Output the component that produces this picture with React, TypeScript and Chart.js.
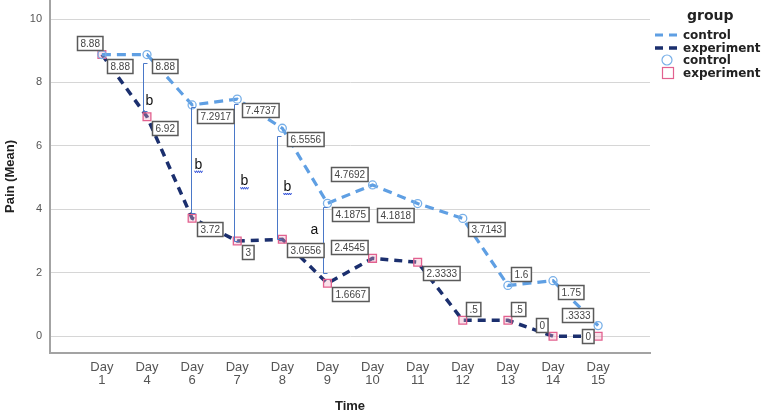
import React, { useEffect, useRef } from 'react';
import { Chart, registerables } from 'chart.js';
Chart.register(...registerables);

const days = ['1', '4', '6', '7', '8', '9', '10', '11', '12', '13', '14', '15'];
const controlMeans = [8.88, 8.88, 7.2917, 7.4737, 6.5556, 4.1875, 4.7692, 4.1818, 3.7143, 1.6, 1.75, 0.3333];
const experimentMeans = [8.88, 6.92, 3.72, 3, 3.0556, 1.6667, 2.4545, 2.3333, 0.5, 0.5, 0, 0];
const sigLetters = ['', 'b', 'b', 'b', 'b', 'a', '', '', '', '', '', ''];
const yTicks = [0, 2, 4, 6, 8, 10];
const legendTitle = 'group';
const seriesNames = ['control', 'experiment'];

// label / bracket placement (layout only)
const controlLabelPos = ['u', 'lr', 'lr', 'lr', 'lr', 'lr', 'ul', 'll', 'lr', 'ur', 'lr', 'ul'];
const experimentLabelPos = ['lr', 'lr', 'lr', 'lr', 'lr', 'lr', 'ul', 'lr', 'ur', 'ur', 'ul', 'l'];
const bracketDx = [0, -4, -1, -3, -5, -4, 0, 0, 0, 0, 0, 0];
const bracketTopInset = [0, 8, 2, 5, 8, 4, 0, 0, 0, 0, 0, 0];
const bracketBotInset = [0, 6, 5, 0, 0, 10, 0, 0, 0, 0, 0, 0];
const letterDx = [0, 6, 7, 10, 10, -9, 0, 0, 0, 0, 0, 0];
const letterFrac = [0, 0.78, 0.54, 0.56, 0.49, 0.35, 0, 0, 0, 0, 0, 0];
const squiggle = [false, false, true, true, true, false, false, false, false, false, false, false];

const CONTROL = '#5f9fe3';
const EXPER = '#1b2f6e';
const PINK = '#e2618f';
const FONT = '"Liberation Sans", Arial, sans-serif';
const LFONT = '"DejaVu Sans", Verdana, sans-serif';

const fmt = (v: number) => String(v).replace(/^0\./, '.');
const noPad = () => ({ left: 0, top: 0, right: 0, bottom: 0 });

const overlay = {
  id: 'overlay',
  afterDatasetsDraw(chart: any) {
    const { ctx } = chart;
    const xs = chart.scales.x;
    const ys = chart.scales.y;
    ctx.save();
    // significance brackets
    sigLetters.forEach((letter: string, i: number) => {
      if (!letter) return;
      const lx = Math.round(xs.getPixelForValue(i) + bracketDx[i]) + 0.5;
      const top = Math.round(ys.getPixelForValue(controlMeans[i]) + bracketTopInset[i]) + 0.5;
      const bot = Math.round(ys.getPixelForValue(experimentMeans[i]) - bracketBotInset[i]) + 0.5;
      ctx.strokeStyle = '#4a78c8';
      ctx.lineWidth = 1;
      ctx.setLineDash([]);
      ctx.beginPath();
      ctx.moveTo(lx + 4, top);
      ctx.lineTo(lx, top);
      ctx.lineTo(lx, bot);
      ctx.lineTo(lx + 4, bot);
      ctx.stroke();
      const ly = top + (bot - top) * letterFrac[i];
      const tx = lx + letterDx[i];
      ctx.fillStyle = '#111';
      ctx.font = '14px ' + FONT;
      ctx.textAlign = 'center';
      ctx.textBaseline = 'middle';
      ctx.fillText(letter, tx, ly);
      if (squiggle[i]) {
        ctx.strokeStyle = '#2f4fd8';
        ctx.lineWidth = 1;
        ctx.beginPath();
        for (let k = 0; k <= 8; k++) {
          const px = tx - 4 + k;
          const py = ly + 7 + (k % 2 === 0 ? -1 : 1);
          if (k === 0) ctx.moveTo(px, py);
          else ctx.lineTo(px, py);
        }
        ctx.stroke();
      }
    });
    // value labels
    const drawLabel = (val: number, i: number, code: string) => {
      const px = xs.getPixelForValue(i);
      const py = ys.getPixelForValue(val);
      const text = fmt(val);
      ctx.font = '10px ' + FONT;
      const w = ctx.measureText(text).width + 6;
      const h = 14;
      let left = px + 5;
      let top = py + 4;
      if (code === 'ul') { left = px - 5 - w; top = py - 4 - h; }
      else if (code === 'll') { left = px - 4 - w; top = py + 4; }
      else if (code === 'ur') { left = px + 3; top = py - 4 - h; }
      else if (code === 'l') { left = px - 5 - w; top = py - h / 2; }
      else if (code === 'u') { left = px + 1 - w; top = py - 5 - h; }
      left = Math.round(left) + 0.5;
      top = Math.round(top) + 0.5;
      ctx.fillStyle = '#ffffff';
      ctx.fillRect(left, top, w, h);
      ctx.strokeStyle = '#5a5a5a';
      ctx.lineWidth = 1.5;
      ctx.setLineDash([]);
      ctx.strokeRect(left, top, w, h);
      ctx.fillStyle = '#444';
      ctx.textAlign = 'center';
      ctx.textBaseline = 'middle';
      ctx.fillText(text, left + w / 2, top + h / 2 + 0.5);
    };
    controlMeans.forEach((v, i) => drawLabel(v, i, controlLabelPos[i]));
    experimentMeans.forEach((v, i) => drawLabel(v, i, experimentLabelPos[i]));
    ctx.restore();
  },
  afterDraw(chart: any) {
    const { ctx } = chart;
    ctx.save();
    ctx.fillStyle = '#222';
    ctx.textAlign = 'left';
    ctx.textBaseline = 'middle';
    ctx.font = 'bold 14px ' + LFONT;
    ctx.fillText(legendTitle, 687, 16);
    ctx.font = 'bold 12px ' + LFONT;
    // dashed lines
    [[CONTROL, 35, 3], [EXPER, 48, 3.5]].forEach(([c, y, lw]: any) => {
      ctx.strokeStyle = c;
      ctx.lineWidth = lw;
      ctx.setLineDash([8, 6]);
      ctx.beginPath();
      ctx.moveTo(655, y);
      ctx.lineTo(679, y);
      ctx.stroke();
    });
    ctx.setLineDash([]);
    ctx.strokeStyle = '#79b0e8';
    ctx.lineWidth = 1.2;
    ctx.beginPath();
    ctx.arc(667, 60, 5, 0, Math.PI * 2);
    ctx.stroke();
    ctx.strokeStyle = PINK;
    ctx.strokeRect(662.5, 67.5, 11, 11);
    ctx.fillStyle = '#222';
    ctx.fillText(seriesNames[0], 683, 36);
    ctx.fillText(seriesNames[1], 683, 49);
    ctx.fillText(seriesNames[0], 683, 61);
    ctx.fillText(seriesNames[1], 683, 74);
    ctx.restore();
  },
};

export default function App() {
  const ref = useRef<HTMLCanvasElement>(null);
  useEffect(() => {
    document.body.style.margin = '0';
    const chart = new Chart(ref.current as HTMLCanvasElement, {
      type: 'line',
      data: {
        datasets: [
          {
            label: seriesNames[0],
            data: controlMeans.map((v, i) => ({ x: i, y: v })),
            borderColor: CONTROL,
            borderWidth: 3.2,
            borderDash: [9, 6],
            pointStyle: 'circle',
            pointRadius: 4,
            pointBorderWidth: 1.3,
            pointBorderColor: '#79b0e8',
            pointBackgroundColor: 'rgba(255,255,255,0)',
            tension: 0,
            fill: false,
          },
          {
            label: seriesNames[1],
            data: experimentMeans.map((v, i) => ({ x: i, y: v })),
            borderColor: EXPER,
            borderWidth: 3.5,
            borderDash: [8, 6],
            pointStyle: 'rect',
            pointRadius: 5.5,
            pointBorderWidth: 1.3,
            pointBorderColor: PINK,
            pointBackgroundColor: 'rgba(240,170,195,0.35)',
            tension: 0,
            fill: false,
          },
        ],
      },
      options: {
        responsive: false,
        animation: false,
        layout: { autoPadding: false, padding: { left: 0, right: 118, top: 0, bottom: 0 } },
        plugins: { legend: { display: false }, tooltip: { enabled: false } },
        scales: {
          x: {
            type: 'linear',
            min: -1.15,
            max: 12.15,
            afterBuildTicks: (s: any) => { s.ticks = days.map((_, i) => ({ value: i })); },
            afterFit: (s: any) => {
              s.height = 61; s.paddingLeft = 0; s.paddingRight = 0; s.paddingTop = 0; s.paddingBottom = 0;
              s.getPadding = noPad;
            },
            grid: { display: false, drawTicks: false },
            border: { color: '#a3a3a3', width: 2 },
            ticks: {
              autoSkip: false,
              maxRotation: 0,
              padding: 8,
              color: '#555',
              font: { family: FONT, size: 13, lineHeight: 1.0 },
              callback: (v: any) => ['Day', days[v]],
            },
            title: {
              display: true,
              text: 'Time',
              color: '#222',
              font: { family: FONT, size: 13, weight: 'bold' },
              padding: { top: 0, bottom: 0 },
            },
          },
          y: {
            min: -0.53,
            max: 10.6,
            afterBuildTicks: (s: any) => { s.ticks = yTicks.map((v) => ({ value: v })); },
            afterFit: (s: any) => {
              s.width = 50; s.paddingTop = 0; s.paddingBottom = 0; s.paddingLeft = 0; s.paddingRight = 0;
              s.getPadding = noPad;
            },
            grid: { color: '#d6d6d6', lineWidth: 1, drawTicks: false },
            border: { color: '#a3a3a3', width: 2 },
            ticks: {
              padding: 8,
              color: '#555',
              font: { family: FONT, size: 11 },
            },
            title: {
              display: true,
              text: 'Pain (Mean)',
              color: '#222',
              font: { family: FONT, size: 13, weight: 'bold' },
              padding: { top: 3, bottom: 0 },
            },
          },
        },
      },
      plugins: [overlay],
    } as any);
    return () => chart.destroy();
  }, []);
  return (
    <div style={{ width: 768, height: 414 }}>
      <canvas ref={ref} width={768} height={414} style={{ display: 'block' }} />
    </div>
  );
}
